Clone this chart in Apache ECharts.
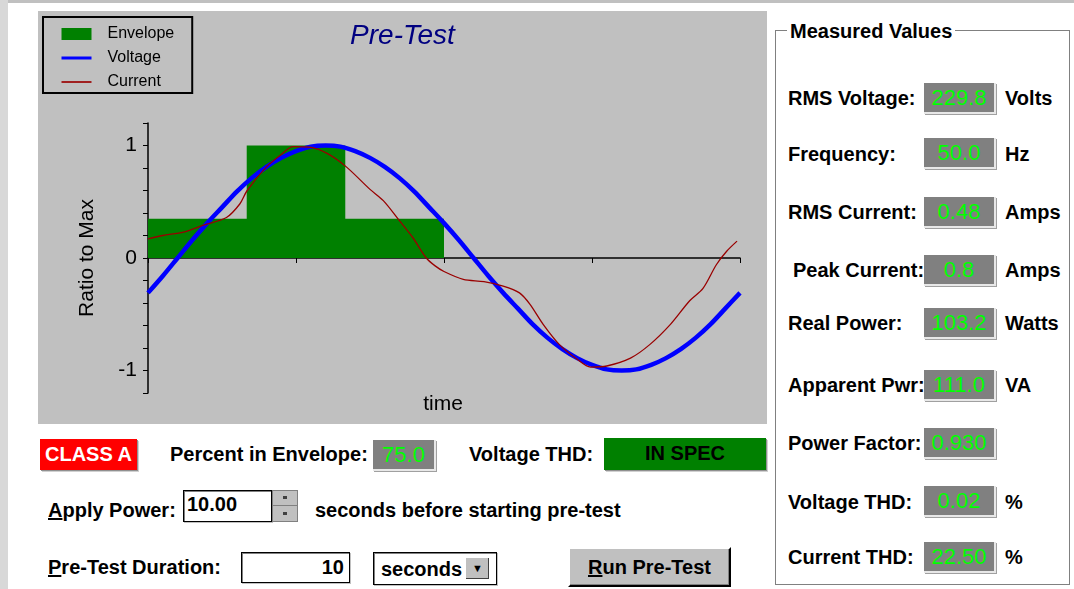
<!DOCTYPE html>
<html>
<head>
<meta charset="utf-8">
<script src="https://cdn.jsdelivr.net/npm/echarts@6/dist/echarts.min.js"></script>
<style>
  body { margin: 0; width: 1074px; height: 589px; overflow: hidden; background: #fff; position: relative;
         font-family: "Liberation Sans", Arial, sans-serif; }
  .strip-top { position: absolute; left: 0; top: 0; width: 1074px; height: 3px; background: #c0c0c0; }
  .strip-left { position: absolute; left: 0; top: 0; width: 8px; height: 589px; background: #d8d8d8; }
  #chart { position: absolute; left: 38px; top: 11px; width: 729px; height: 413px; }
  .lbl { position: absolute; font-weight: bold; font-size: 20px; color: #000; white-space: nowrap; line-height: 24px; }
  .val { position: absolute; background: #808080; color: #00ff00; font-size: 22px; text-align: center;
         box-sizing: border-box; border-right: 2px solid #e8e8e8; border-bottom: 2px solid #e8e8e8;
         box-shadow: 1px 1px 0 #a0a0a0; white-space: nowrap; }
  .box { position: absolute; box-sizing: border-box; background: #fff; border: 1px solid #000;
         box-shadow: inset 1px 1px 0 #808080, 1px 1px 0 #c0c0c0; font-weight: bold; font-size: 20px; }
  .group { position: absolute; left: 775px; top: 30px; width: 295px; height: 555px; box-sizing: border-box;
           border: 1px solid #808080; box-shadow: inset 1px 1px 0 #fff, 1px 1px 0 #fff; }
  .group-title { position: absolute; left: 787px; top: 19px; padding: 0 3px; background: #fff;
                 font-weight: bold; font-size: 20px; line-height: 24px; }
</style>
</head>
<body>
<div class="strip-top"></div>
<div class="strip-left"></div>
<div id="chart"></div>

<!-- row 1 -->
<div style="position:absolute;left:40px;top:439px;width:97px;height:31px;background:#ff0000;color:#fff;font-weight:bold;font-size:20px;text-align:center;line-height:31px;box-shadow:1px 1px 0 #909090,2px 2px 0 #d0d0d0;">CLASS A</div>
<div class="lbl" style="left:170px;top:442px;">Percent in Envelope:</div>
<div class="val" style="left:373px;top:440px;width:63px;height:31px;line-height:29px;" id="pctBox"></div>
<div class="lbl" style="left:469px;top:442px;">Voltage THD:</div>
<div style="position:absolute;left:604px;top:438px;width:162px;height:32px;background:#008000;color:#000;font-weight:bold;font-size:20px;text-align:center;line-height:31px;box-shadow:1px 1px 0 #909090,2px 2px 0 #d0d0d0;">IN SPEC</div>

<!-- row 2 -->
<div class="lbl" style="left:48px;top:498px;"><u>A</u>pply Power:</div>
<div class="box" style="left:183px;top:490px;width:89px;height:32px;padding:1px 0 0 3px;line-height:24px;">10.00</div>
<div style="position:absolute;left:272px;top:490px;width:26px;height:32px;box-sizing:border-box;background:#c0c0c0;border:1px solid #808080;">
  <div style="position:absolute;left:0;top:14px;width:24px;height:1px;background:#808080;"></div>
  <div style="position:absolute;left:10px;top:5px;width:4px;height:3px;background:#404040;"></div>
  <div style="position:absolute;left:10px;top:21px;width:4px;height:3px;background:#404040;"></div>
</div>
<div class="lbl" style="left:315px;top:498px;">seconds before starting pre-test</div>

<!-- row 3 -->
<div class="lbl" style="left:48px;top:555px;"><u>P</u>re-Test Duration:</div>
<div class="box" style="left:241px;top:552px;width:109px;height:31px;text-align:right;padding-right:5px;line-height:29px;">10</div>
<div class="box" style="left:373px;top:552px;width:124px;height:33px;padding-left:7px;line-height:32px;">seconds
  <div style="position:absolute;left:92px;top:5px;width:23px;height:21px;background:#c0c0c0;box-shadow:inset -1px -1px 0 #404040;text-align:center;font-size:11px;line-height:21px;">&#9660;</div>
</div>
<div style="position:absolute;left:568px;top:547px;width:163px;height:40px;box-sizing:border-box;background:#c0c0c0;border-top:2px solid #fff;border-left:2px solid #fff;border-right:2px solid #000;border-bottom:2px solid #000;box-shadow:inset -1px -1px 0 #808080;font-weight:bold;font-size:20px;text-align:center;line-height:36px;"><u>R</u>un Pre-Test</div>

<!-- measured values group -->
<div class="group"></div>
<div class="group-title">Measured Values</div>
<div id="measured"></div>

<script>
// chart data (x in quarter periods, y as ratio to max)
var envelopeX = [0, 0.667, 1.333, 2];
var envelopeY = [0.35, 1, 0.35, 0.35];

var voltageX = [0, 0.1, 0.2, 0.3, 0.4, 0.5, 0.6, 0.7, 0.8, 0.9, 1.0, 1.1, 1.2, 1.3, 1.4, 1.5, 1.6, 1.7, 1.8, 1.9, 2.0,
                2.1, 2.2, 2.3, 2.4, 2.5, 2.6, 2.7, 2.8, 2.9, 3.0, 3.1, 3.2, 3.3, 3.4, 3.5, 3.6, 3.7, 3.8, 3.9, 4.0];
var voltageY = [-0.31, -0.16, 0.0, 0.16, 0.31, 0.45, 0.59, 0.71, 0.81, 0.89, 0.95, 0.99, 1.0, 0.99, 0.95, 0.89, 0.81,
                0.71, 0.59, 0.45, 0.31, 0.16, 0.0, -0.16, -0.31, -0.45, -0.59, -0.71, -0.81, -0.89, -0.95, -0.99, -1.0,
                -0.99, -0.95, -0.89, -0.81, -0.71, -0.59, -0.45, -0.31];

var currentX = [0, 0.1, 0.24, 0.37, 0.53, 0.62, 0.67, 0.8, 0.9, 0.98, 1.09, 1.21, 1.34, 1.5, 1.59, 1.7, 1.79, 1.88,
                1.94, 2.0, 2.13, 2.27, 2.4, 2.51, 2.58, 2.67, 2.78, 2.9, 2.99, 3.1, 3.26, 3.39, 3.53, 3.66, 3.75,
                3.84, 3.91, 3.98];
var currentY = [0.17, 0.2, 0.23, 0.29, 0.36, 0.48, 0.6, 0.81, 0.92, 0.99, 0.985, 0.93, 0.81, 0.61, 0.51, 0.33, 0.18,
                0.0, -0.07, -0.12, -0.19, -0.21, -0.25, -0.31, -0.41, -0.59, -0.77, -0.9, -0.97, -0.96, -0.89, -0.77,
                -0.59, -0.38, -0.27, -0.06, 0.06, 0.15];

var yTickLabels = [-1, 0, 1];

// readouts
var percentInEnvelope = '75.0';
var measuredLabels = ['RMS Voltage:', 'Frequency:', 'RMS Current:', 'Peak Current:', 'Real Power:',
                      'Apparent Pwr:', 'Power Factor:', 'Voltage THD:', 'Current THD:'];
var measuredValues = ['229.8', '50.0', '0.48', '0.8', '103.2', '111.0', '0.930', '0.02', '22.50'];
var measuredUnits = ['Volts', 'Hz', 'Amps', 'Amps', 'Watts', 'VA', '', '%', '%'];

// layout of the readout rows (page pixels)
var rowCenters = [98, 153.5, 212, 270, 323, 385, 443, 501.5, 557];

document.getElementById('pctBox').textContent = percentInEnvelope;

var html = '';
for (var i = 0; i < measuredLabels.length; i++) {
    var cy = rowCenters[i];
    var lx = i === 3 ? 793 : 788;
    html += '<div class="lbl" style="left:' + lx + 'px;top:' + (cy - 12) + 'px;">' + measuredLabels[i] + '</div>';
    html += '<div class="val" style="left:924px;top:' + (cy - 15.5) + 'px;width:72px;height:31px;line-height:29px;">' +
            measuredValues[i] + '</div>';
    if (measuredUnits[i]) {
        html += '<div class="lbl" style="left:1005px;top:' + (cy - 12) + 'px;">' + measuredUnits[i] + '</div>';
    }
}
document.getElementById('measured').innerHTML = html;

function pairs(xs, ys) {
    return xs.map(function (x, i) { return [x, ys[i]]; });
}

var font = '"Liberation Sans", Arial, sans-serif';
// hide the dot that line legend icons get by default
var noDot = { color: 'rgba(0,0,0,0)', borderWidth: 0, opacity: 0 };

var chart = echarts.init(document.getElementById('chart'));
chart.setOption({
    backgroundColor: '#c0c0c0',
    animation: false,
    textStyle: { fontFamily: font },
    title: {
        text: 'Pre-Test',
        left: 'center',
        top: 6,
        textStyle: { fontFamily: font, fontSize: 28, fontStyle: 'italic', fontWeight: 'normal', color: '#000080' }
    },
    legend: {
        orient: 'vertical',
        left: 5,
        top: 6,
        padding: [9, 18, 3, 17],
        itemGap: 8,
        itemWidth: 30,
        itemHeight: 12,
        borderColor: '#000',
        borderWidth: 2,
        backgroundColor: '#c0c0c0',
        textStyle: { fontFamily: font, fontSize: 16, color: '#000', padding: [0, 0, 0, 11] },
        data: [
            { name: 'Envelope', icon: 'rect' },
            { name: 'Voltage', itemStyle: noDot, lineStyle: { width: 3, color: '#0000ff' } },
            { name: 'Current', itemStyle: noDot, lineStyle: { width: 2, color: '#a02020' } }
        ]
    },
    grid: { left: 110, right: 27, top: 112, bottom: 31, outerBoundsMode: 'none' },
    xAxis: {
        type: 'value',
        min: 0,
        max: 4,
        interval: 1,
        axisLine: { show: true, onZero: true, lineStyle: { color: '#000', width: 1.5 } },
        axisTick: { show: true, inside: false, length: 5, lineStyle: { color: '#000' } },
        axisLabel: { show: false },
        splitLine: { show: false }
    },
    yAxis: {
        type: 'value',
        min: -1.2,
        max: 1.2,
        interval: 0.2,
        name: 'Ratio to Max',
        nameLocation: 'middle',
        nameGap: 50,
        nameTextStyle: { fontFamily: font, fontSize: 21, color: '#000' },
        axisLine: { show: true, onZero: false, lineStyle: { color: '#000', width: 1.5 } },
        axisTick: { show: true, inside: false, length: 5, lineStyle: { color: '#000' } },
        axisLabel: {
            fontFamily: font,
            fontSize: 21,
            color: '#000',
            margin: 11,
            formatter: function (v) {
                var r = Math.round(v * 10) / 10;
                return yTickLabels.indexOf(r) >= 0 ? String(r) : '';
            }
        },
        splitLine: { show: false }
    },
    graphic: [{
        type: 'text',
        x: 405,
        y: 393,
        style: { text: 'time', font: '21px ' + font, fill: '#000', align: 'center', verticalAlign: 'middle' }
    }],
    series: [
        {
            name: 'Envelope',
            type: 'line',
            step: 'end',
            symbol: 'none',
            data: pairs(envelopeX, envelopeY),
            lineStyle: { width: 0, color: '#008000' },
            itemStyle: { color: '#008000' },
            areaStyle: { color: '#008000', opacity: 1 },
            z: 1
        },
        {
            name: 'Voltage',
            type: 'line',
            symbol: 'none',
            smooth: 0.3,
            data: pairs(voltageX, voltageY),
            lineStyle: { width: 4.5, color: '#0000ff' },
            itemStyle: { color: '#0000ff' },
            z: 2
        },
        {
            name: 'Current',
            type: 'line',
            symbol: 'none',
            smooth: 0.3,
            data: pairs(currentX, currentY),
            lineStyle: { width: 1.3, color: '#990000' },
            itemStyle: { color: '#990000' },
            z: 3
        }
    ]
});
</script>
</body>
</html>
